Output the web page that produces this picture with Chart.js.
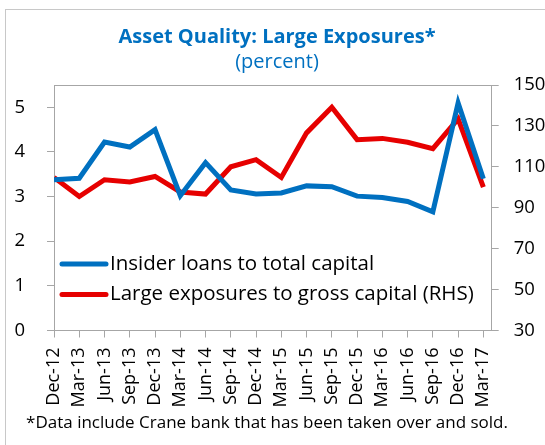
<!DOCTYPE html>
<html>
<head>
<meta charset="utf-8">
<script src="https://cdn.jsdelivr.net/npm/chart.js@4.4.1/dist/chart.umd.min.js"></script>
<style>
  html, body { margin: 0; padding: 0; background: #fff; }
  #wrap { position: relative; width: 545px; height: 445px; }
</style>
</head>
<body>
<div id="wrap"><canvas id="chart" width="545" height="445"></canvas></div>
<script>
// quarters on the x axis
const quarters = ['Dec-12','Mar-13','Jun-13','Sep-13','Dec-13','Mar-14','Jun-14','Sep-14','Dec-14',
  'Mar-15','Jun-15','Sep-15','Dec-15','Mar-16','Jun-16','Sep-16','Dec-16','Mar-17'];

// insider loans to total capital (left axis, percent)
const insiderLoans = [3.38, 3.41, 4.22, 4.11, 4.50, 3.02, 3.76, 3.15, 3.06, 3.08, 3.24, 3.22, 3.01, 2.98, 2.89, 2.66, 5.10, 3.40];

// large exposures to gross capital (right axis, percent)
const largeExposures = [104.8, 95.5, 103.7, 102.6, 105.3, 97.7, 96.7, 110.0, 113.5, 104.8, 126.6, 139.1, 123.3, 123.9, 122.0, 118.9, 133.4, 100.1];

const leftTicks = [0, 1, 2, 3, 4, 5];
const rightTicks = [30, 50, 70, 90, 110, 130, 150];

const titleText = 'Asset Quality: Large Exposures*';
const subtitleText = '(percent)';
const noteText = '*Data include Crane bank that has been taken over and sold.';

const BLUE = '#0070C0';
const RED = '#E60000';
const GRAY = '#A6A6A6';
const FONT = "'Open Sans', 'Noto Sans', sans-serif";

// frame, titles, footnote, plot border and in-plot legend
const decorations = {
  id: 'decorations',
  beforeDraw(chart) {
    const ctx = chart.ctx;
    ctx.save();
    ctx.strokeStyle = '#C8C8C8';
    ctx.lineWidth = 1;
    ctx.strokeRect(5.5, 9.5, 600, 500);
    ctx.restore();
  },
  afterDraw(chart) {
    const ctx = chart.ctx;
    const a = chart.chartArea;
    ctx.save();
    // top edge of plot area
    ctx.strokeStyle = GRAY;
    ctx.lineWidth = 1;
    ctx.beginPath();
    ctx.moveTo(a.left, Math.round(a.top) + 0.5);
    ctx.lineTo(a.right, Math.round(a.top) + 0.5);
    ctx.stroke();

    // titles
    ctx.fillStyle = BLUE;
    ctx.textAlign = 'center';
    ctx.textBaseline = 'middle';
    ctx.font = 'bold 20px ' + FONT;
    ctx.fillText(titleText, 277, 37);
    ctx.font = '20px ' + FONT;
    ctx.fillText(subtitleText, 277, 62);

    // footnote
    ctx.fillStyle = '#000';
    ctx.font = '17px ' + FONT;
    ctx.fillText(noteText, 267, 423);

    // legend
    ctx.textAlign = 'left';
    ctx.font = '20.5px ' + FONT;
    chart.data.datasets.forEach((ds, i) => {
      const y = 264 + i * 30.5;
      ctx.strokeStyle = ds.borderColor;
      ctx.lineWidth = 5;
      ctx.lineCap = 'round';
      ctx.beginPath();
      ctx.moveTo(62, y);
      ctx.lineTo(106, y);
      ctx.stroke();
      ctx.fillStyle = '#000';
      ctx.fillText(ds.label, 110, y);
    });
    ctx.restore();
  }
};

const ctx = document.getElementById('chart').getContext('2d');
new Chart(ctx, {
  type: 'line',
  data: {
    datasets: [
      {
        label: 'Insider loans to total capital',
        data: insiderLoans.map((v, i) => ({ x: i, y: v })),
        borderColor: BLUE,
        borderWidth: 5,
        pointRadius: 0,
        yAxisID: 'y'
      },
      {
        label: 'Large exposures to gross capital (RHS)',
        data: largeExposures.map((v, i) => ({ x: i, y: v })),
        borderColor: RED,
        borderWidth: 5,
        pointRadius: 0,
        yAxisID: 'y2'
      }
    ]
  },
  options: {
    responsive: false,
    animation: false,
    layout: { padding: { top: 85, left: 0, right: 0, bottom: 0 } },
    plugins: {
      legend: { display: false },
      title: { display: false },
      tooltip: { enabled: false }
    },
    scales: {
      x: {
        type: 'linear',
        min: 0,
        max: 17.33,
        afterFit: s => { s.height = 114.5; },
        afterBuildTicks: s => { s.ticks = quarters.map((q, i) => ({ value: i })); },
        grid: { drawOnChartArea: false, tickLength: 7, color: GRAY },
        border: { color: GRAY },
        ticks: {
          autoSkip: false,
          minRotation: 90,
          maxRotation: 90,
          padding: 10,
          color: '#000',
          font: { family: FONT, size: 18 },
          callback: v => quarters[v]
        }
      },
      y: {
        position: 'left',
        min: 0,
        max: 5.5,
        afterFit: s => { s.width = 54; },
        afterBuildTicks: s => { s.ticks = leftTicks.map(v => ({ value: v })); },
        grid: { drawOnChartArea: false, tickLength: 7, color: GRAY },
        border: { color: GRAY },
        ticks: { padding: 22, color: '#000', font: { family: FONT, size: 18.5 } }
      },
      y2: {
        position: 'right',
        min: 30,
        max: 150,
        afterFit: s => { s.width = 53.3; },
        afterBuildTicks: s => { s.ticks = rightTicks.map(v => ({ value: v })); },
        grid: { drawOnChartArea: false, tickLength: 7, color: GRAY },
        border: { color: GRAY },
        ticks: { padding: 15, color: '#000', font: { family: FONT, size: 18.5 } }
      }
    }
  },
  plugins: [decorations]
});
</script>
</body>
</html>
